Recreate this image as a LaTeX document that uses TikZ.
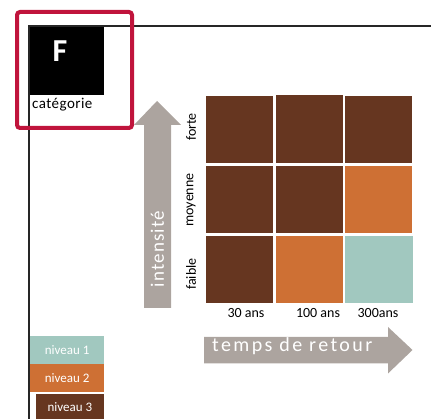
\documentclass[tikz,border=0pt]{standalone}
\usepackage{fontspec}
\setmainfont{Carlito}
\newfontfamily\spaced[LetterSpace=12]{Carlito}
\newfontfamily\spacedb[LetterSpace=6]{Carlito}
\newfontfamily\spacedc[LetterSpace=3]{Carlito}
\usetikzlibrary{shapes.arrows}
\definecolor{brn}{HTML}{663620}
\definecolor{org}{HTML}{CE7034}
\definecolor{teal}{HTML}{A1C8BF}
\definecolor{gry}{HTML}{ACA49F}
\definecolor{crim}{HTML}{C0143C}
\tikzset{
  cell/.style={draw=none,minimum width=67pt,minimum height=67pt,inner sep=0pt,anchor=north west},
  leg/.style={draw=none,inner sep=0pt,minimum height=28pt,text=white,font=\fontsize{13}{13}\selectfont},
  lab/.style={font=\fontsize{14}{14}\selectfont,inner sep=0pt},
}
\begin{document}
\begin{tikzpicture}[x=1pt,y=-1pt]
\useasboundingbox (0,0) rectangle (431,419);
% frame lines
\coordinate (tl) at (29,26);
\coordinate (tr) at (431,26);
\coordinate (bl) at (29,419);
\draw[line width=1.2pt,black!85] (tr) -- (tl) -- (bl);
% category box
\node[fill=black,minimum width=74pt,minimum height=68pt,inner sep=0pt,anchor=north west] (blk) at (30,27) {};
\node[text=white,font=\fontsize{32}{32}\selectfont\bfseries,inner sep=0pt] (F) at (60,51) {F};
\node[anchor=west,inner sep=0pt,font=\spacedc\fontsize{15}{15}\selectfont] (cat) at (32,105) {catégorie};
\node[draw=crim,line width=4pt,rounded corners=3pt,minimum width=115pt,minimum height=116pt,anchor=north west,inner sep=0pt] (red) at (15,10) {};
% up arrow
\fill[gry] (144,308) -- (144,125) -- (134,125) -- (157,101) -- (181,125) -- (171,125) -- (171,308) -- cycle;
\node[rotate=90,text=white,font=\spacedb\fontsize{19}{19}\selectfont,inner sep=0pt] (int) at (157.5,249) {intensité};
% grid
\node[cell,fill=brn] (c11) at (206,96) {};
\node[cell,fill=brn,minimum height=68.5pt] (c12) at (275.5,94.7) {};
\node[cell,fill=brn] (c13) at (345,96) {};
\node[cell,fill=brn] (c21) at (206,166) {};
\node[cell,fill=brn] (c22) at (275.5,166) {};
\node[cell,fill=org] (c23) at (345,166) {};
\node[cell,fill=brn] (c31) at (206,235.5) {};
\node[cell,fill=org] (c32) at (275.5,235.5) {};
\node[cell,fill=teal,minimum width=68pt] (c33) at (345,235.5) {};
% row labels
\node[lab,rotate=90] (forte) at (191,127) {forte};
\node[lab,rotate=90] (moy) at (191,200) {moyenne};
\node[lab,rotate=90] (faible) at (191,274) {faible};
% column labels
\node[lab] (a30) at (246,313) {30 ans};
\node[lab] (a100) at (318,313) {100 ans};
\node[lab] (a300) at (378,313) {300ans};
% right arrow
\fill[gry] (204,337) -- (388,337) -- (388,327) -- (412.5,350) -- (388,373.5) -- (388,363.5) -- (204,363.5) -- cycle;
\node[anchor=west,text=white,font=\spaced\fontsize{20}{20}\selectfont,inner sep=0pt] (tdr) at (212,346) {temps de retour};
% legend
\node[leg,fill=teal,minimum width=74pt,anchor=north west] (n1) at (30,336) {niveau 1};
\node[leg,fill=org,minimum width=74pt,anchor=north west] (n2) at (30,364) {niveau 2};
\node[leg,fill=brn,minimum width=68.5pt,minimum height=25pt,anchor=north west] (n3) at (35.5,394) {niveau 3};
\end{tikzpicture}
\end{document}
